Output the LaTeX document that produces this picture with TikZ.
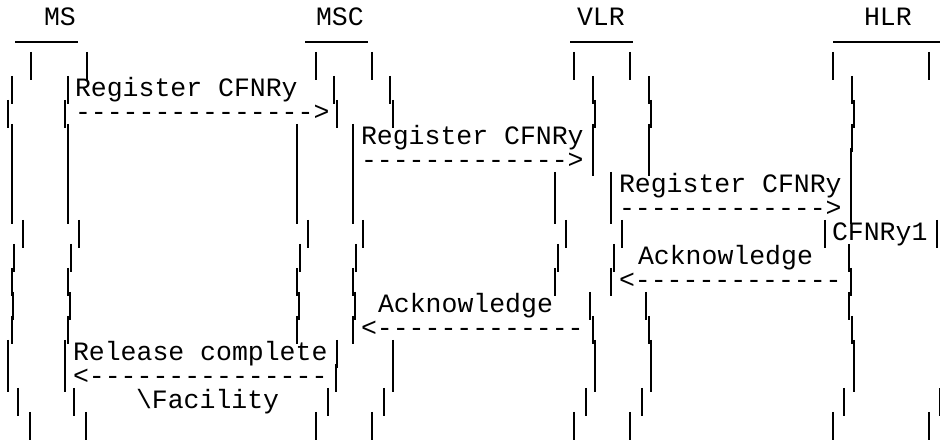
\documentclass[tikz,border=0pt]{standalone}
\usepackage{fontspec}
\newfontfamily\asciifont{Liberation Mono}

\tikzset{
  lbl/.style={anchor=base west, inner sep=0pt, outer sep=0pt,
    font=\asciifont\fontsize{26.5}{26.5}\selectfont},
  bar/.style={line width=1.8pt},
}
\newcommand{\dashrun}[1]{\foreach \i in {1,...,#1}{-}}

\begin{document}
\begin{tikzpicture}[x=1pt,y=-1pt]
\useasboundingbox (0,0) rectangle (940,443);

% entity names and their underlines
\node[lbl] (ms) at (44,26) {MS};
\node[lbl] (msc) at (316,26) {MSC};
\node[lbl] (vlr) at (577,26) {VLR};
\node[lbl] (hlr) at (864,26) {HLR};

\draw[bar] (15,42) -- (78,42);
\draw[bar] (305,42) -- (368,42);
\draw[bar] (570,42) -- (633,42);
\draw[bar] (833,42) -- (940,42);

% life lines, one row of bars per text line
\foreach \k/\xs in {
  0/{31,87,316,372,574,630,833,929},
  1/{12,68,334,390,593,649,852},
  2/{8,65,337,393,595,651,854},
  3/{12,68,297,353,593,649,852},
  4/{12,68,297,353,593,649,851},
  5/{12,68,297,353,555,611,851},
  6/{12,68,297,353,555,611,851},
  7/{23,79,308,363,566,622,825,937},
  8/{14,71,300,356,558,614,849},
  9/{12,68,297,353,555,611,851},
  10/{13,70,299,355,590,646,849},
  11/{12,68,297,353,593,649,852},
  12/{8,65,337,393,595,651,854},
  13/{8,65,336,393,595,651,854},
  14/{18,74,328,384,586,642,844,940},
  15/{30,86,316,372,574,630,833,929}}
  \foreach \x in \xs
    \draw[bar] (\x,{52+24*\k}) -- ++(0,28);

% messages
\node[lbl] (reg1) at (75,97) {Register CFNRy};
\node[lbl] (reg1a) at (75,121) {\dashrun{15}>};
\node[lbl] (reg2) at (361,145) {Register CFNRy};
\node[lbl] (reg2a) at (361,169) {\dashrun{13}>};
\node[lbl] (reg3) at (619,193) {Register CFNRy};
\node[lbl] (reg3a) at (619,217) {\dashrun{13}>};
\node[lbl] (cfnry) at (832,241) {CFNRy1};
\node[lbl] (ack1) at (638,265) {Acknowledge};
\node[lbl] (ack1a) at (619,289) {<\dashrun{13}};
\node[lbl] (ack2) at (378,313) {Acknowledge};
\node[lbl] (ack2a) at (361,337) {<\dashrun{13}};
\node[lbl] (rel) at (73,361) {Release complete};
\node[lbl] (rela) at (73,385) {<\dashrun{15}};
\node[lbl] (fac) at (136,409) {\textbackslash Facility};

\end{tikzpicture}
\end{document}
